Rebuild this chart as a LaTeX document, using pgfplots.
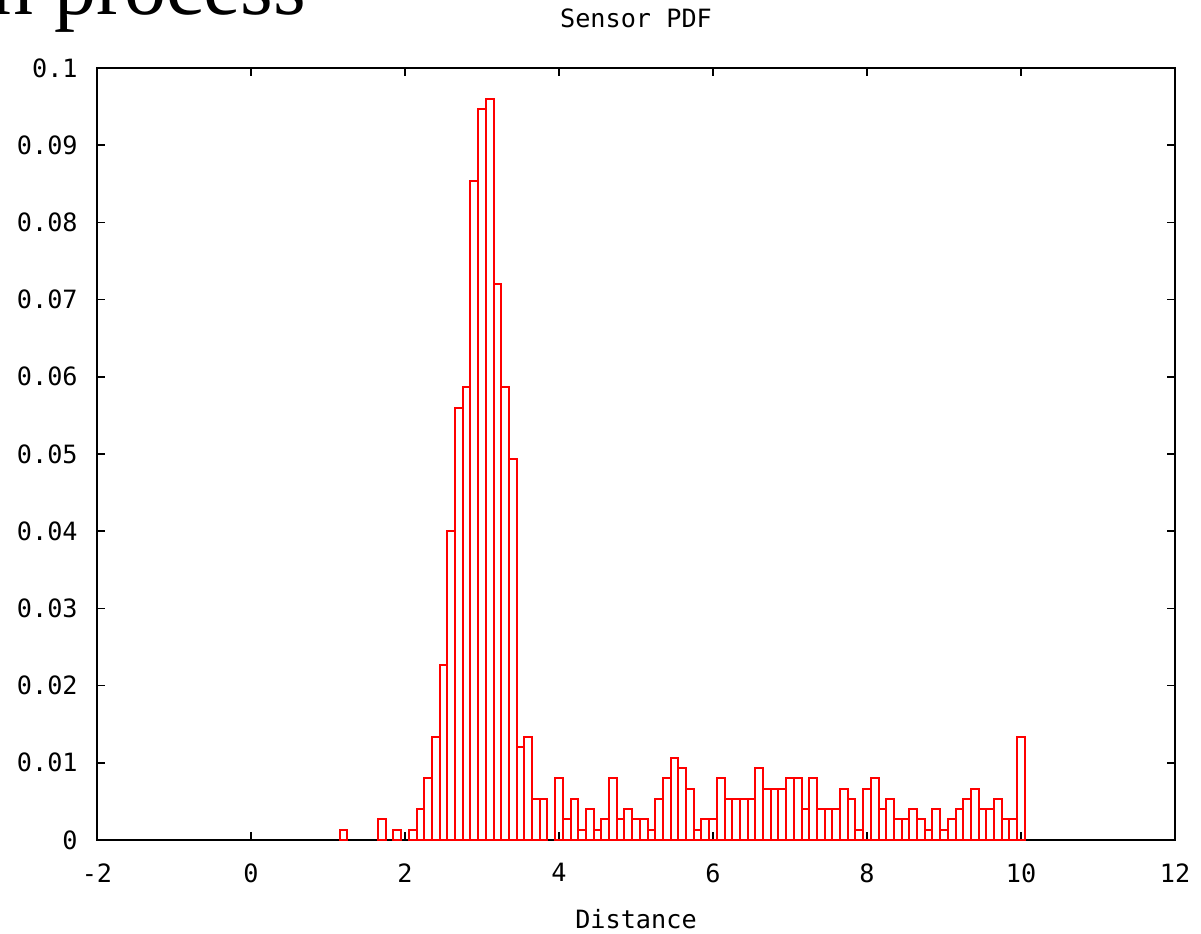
\documentclass[border=0pt]{standalone}
\usepackage{fontspec}
\usepackage{pgfplots}
\usepackage{pgfplotstable}
\pgfplotsset{compat=1.18}
\newfontfamily\gpfont{DejaVu Sans Mono}
\newfontfamily\slidefont{Liberation Serif}

% bin centre, probability (bins 0.1 wide)
\pgfplotstableread{
x     p
1.2   0.00133
1.7   0.00267
1.9   0.00133
2.1   0.00133
2.2   0.004
2.3   0.008
2.4   0.01333
2.5   0.02267
2.6   0.04
2.7   0.056
2.8   0.05867
2.9   0.08533
3.0   0.09467
3.1   0.096
3.2   0.072
3.3   0.05867
3.4   0.04933
3.5   0.012
3.6   0.01333
3.7   0.00533
3.8   0.00533
4.0   0.008
4.1   0.00267
4.2   0.00533
4.3   0.00133
4.4   0.004
4.5   0.00133
4.6   0.00267
4.7   0.008
4.8   0.00267
4.9   0.004
5.0   0.00267
5.1   0.00267
5.2   0.00133
5.3   0.00533
5.4   0.008
5.5   0.01067
5.6   0.00933
5.7   0.00667
5.8   0.00133
5.9   0.00267
6.0   0.00267
6.1   0.008
6.2   0.00533
6.3   0.00533
6.4   0.00533
6.5   0.00533
6.6   0.00933
6.7   0.00667
6.8   0.00667
6.9   0.00667
7.0   0.008
7.1   0.008
7.2   0.004
7.3   0.008
7.4   0.004
7.5   0.004
7.6   0.004
7.7   0.00667
7.8   0.00533
7.9   0.00133
8.0   0.00667
8.1   0.008
8.2   0.004
8.3   0.00533
8.4   0.00267
8.5   0.00267
8.6   0.004
8.7   0.00267
8.8   0.00133
8.9   0.004
9.0   0.00133
9.1   0.00267
9.2   0.004
9.3   0.00533
9.4   0.00667
9.5   0.004
9.6   0.004
9.7   0.00533
9.8   0.00267
9.9   0.00267
10.0  0.01333
}\sensorpdf

\begin{document}
\begin{tikzpicture}
\useasboundingbox (0,0) rectangle (600.5pt,466.5pt);
\begin{axis}[
    at={(48.5pt,46.5pt)}, anchor=south west,
    scale only axis, width=539pt, height=386pt,
    xmin=-2, xmax=12, ymin=0, ymax=0.1,
    xtick={-2,0,2,4,6,8,10,12},
    xticklabels={-2,0,2,4,6,8,10,12},
    ytick={0,0.01,0.02,0.03,0.04,0.05,0.06,0.07,0.08,0.09,0.1},
    yticklabels={0,0.01,0.02,0.03,0.04,0.05,0.06,0.07,0.08,0.09,0.1},
    tick align=inside, major tick length=4pt,
    tick style={black, line width=0.8pt},
    axis line style={black, line width=0.8pt},
    every tick label/.append style={font=\gpfont\fontsize{12.6}{12.6}\selectfont, inner sep=0pt},
    xticklabel style={yshift=-11.5pt},
    yticklabel style={xshift=-9.5pt},
    every axis title shift=0pt,
    title={Sensor PDF},
    title style={at={(0.5,1)}, anchor=base, yshift=20pt, inner sep=0pt,
                 font=\gpfont\fontsize{12.6}{12.6}\selectfont},
    xlabel={Distance},
    xlabel style={at={(axis description cs:0.5,0)}, anchor=base, yshift=-44pt,
                  inner sep=0pt, font=\gpfont\fontsize{12.6}{12.6}\selectfont},
  ]
\addplot[ybar, bar width=0.1, bar shift=0pt, color=red, fill=none, line width=1pt]
  table[x=x, y=p] {\sensorpdf};
\end{axis}
% slide heading, cut off by the top edge
\node[anchor=base west, inner sep=0pt, font=\slidefont\fontsize{42}{42}\selectfont]
  at (-4.5pt,459pt) {n process};
\end{tikzpicture}
\end{document}
